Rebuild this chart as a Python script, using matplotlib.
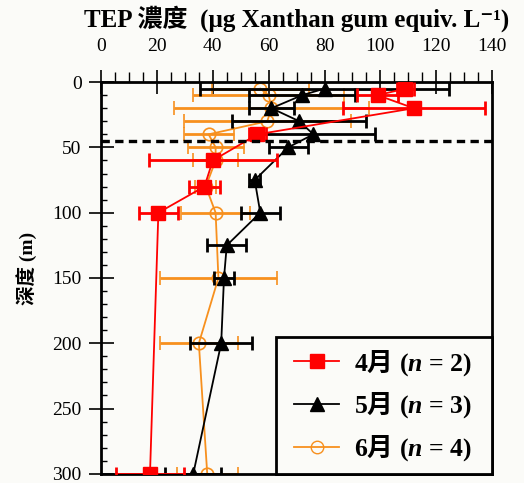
import matplotlib
matplotlib.use("Agg")
import matplotlib.pyplot as plt
from matplotlib.lines import Line2D
from matplotlib.legend_handler import HandlerLine2D
from matplotlib.ticker import MultipleLocator

plt.rcParams['font.family'] = ['Liberation Serif', 'Noto Sans CJK TC', 'STIXGeneral', 'DejaVu Serif']
# mathtext only used for the legend labels: CJK month + bold italic n
plt.rcParams['mathtext.fontset'] = 'custom'
plt.rcParams['mathtext.rm'] = 'Noto Sans CJK TC:bold'
plt.rcParams['mathtext.bfit'] = 'Liberation Serif:italic:bold'

# April (n = 2)
apr_depth = [5, 10, 20, 40, 60, 80, 100, 300]
apr_tep = [109, 99, 112, 56, 40, 37, 20.5, 17.5]
apr_err = [3, 7.5, 25.5, 3, 23, 5.4, 7, 12]

# May (n = 3)
may_depth = [5, 10, 20, 30, 40, 50, 75, 100, 125, 150, 200, 300]
may_tep = [80, 72, 61, 71, 76, 67, 55, 57, 45, 44, 43, 33]
may_err = [44.5, 19, 8, 24, 22, 7, 2, 7, 7, 3.7, 11, 10]

# June (n = 4)
jun_depth = [5, 10, 20, 30, 40, 50, 60, 80, 100, 150, 200, 300]
jun_tep = [57, 60, 61, 59.5, 38.5, 41, 41, 37.5, 41, 42, 35, 38]
jun_err = [17.3, 27, 35, 30, 9, 10, 8, 3.8, 12.3, 21, 14, 11]

months = ['4', '5', '6']
n_obs = [2, 3, 4]
labels = [m + r'$\mathrm{月}$ ($\mathbfit{n}$ = ' + str(n) + ')'
          for m, n in zip(months, n_obs)]
mld = 45

bg = '#fbfbf8'
fig = plt.figure(figsize=(5.24, 4.83), dpi=100, facecolor=bg)
ax = fig.add_axes([0.193, 0.019, 0.746, 0.811], facecolor=bg)

orange = '#f7901e'
ax.errorbar(jun_tep, jun_depth, xerr=jun_err, color=orange, lw=1.3, elinewidth=2,
            capsize=4.7, capthick=2, marker='o', ms=9, mfc='none', mec=orange, mew=1.2, zorder=2)
ax.errorbar(may_tep, may_depth, xerr=may_err, color='black', lw=1.3, elinewidth=2,
            capsize=4.7, capthick=2, marker='^', ms=10, zorder=3)
ax.errorbar(apr_tep, apr_depth, xerr=apr_err, color='red', lw=1.3, elinewidth=2,
            capsize=4.7, capthick=2, marker='s', ms=9.5, zorder=4)

ax.axhline(mld, color='black', lw=2.4, dashes=(2.5, 1.6), zorder=5)

ax.set_xlim(0, 140)
ax.set_ylim(300, 0)
ax.xaxis.tick_top()
ax.xaxis.set_label_position('top')
ax.xaxis.set_major_locator(MultipleLocator(20))
ax.xaxis.set_minor_locator(MultipleLocator(5))
ax.yaxis.set_major_locator(MultipleLocator(50))
ax.yaxis.set_minor_locator(MultipleLocator(10))
ax.tick_params(axis='x', which='major', direction='inout', length=17, width=1.2, labelsize=14, pad=11)
ax.tick_params(axis='x', which='minor', direction='out', length=7, width=1)
ax.tick_params(axis='y', which='major', direction='inout', length=18, width=1.2, labelsize=14, pad=5)
ax.tick_params(axis='y', which='minor', direction='in', length=4.5, width=1)
for s in ax.spines.values():
    s.set_linewidth(2)

ax.set_xlabel('TEP 濃度  (µg Xanthan gum equiv. L⁻¹)', fontsize=18,
              fontweight='bold', labelpad=8)
ax.set_ylabel('深度 (m)', fontsize=14, fontweight='bold')
ax.yaxis.set_label_coords(-0.164, 0.525)

h1, = ax.plot([], [], color='red', lw=1.3, marker='s', ms=9.5)
h2, = ax.plot([], [], color='black', lw=1.3, marker='^', ms=10)
h3, = ax.plot([], [], color=orange, lw=1.3, marker='o', ms=9, mfc='none', mec=orange)
leg = ax.legend([h1, h2, h3], labels, loc='lower right', bbox_to_anchor=(0.448, 0, 0.552, 0.4),
                mode='expand', borderaxespad=0, fancybox=False,
                edgecolor='black', facecolor=bg, framealpha=1, handlelength=2.03,
                labelspacing=0.5, borderpad=0.42, handletextpad=0.58,
                handler_map={Line2D: HandlerLine2D(xpad=0.28)},
                prop={'size': 18.5, 'weight': 'bold'})
leg.get_frame().set_linewidth(2)
leg.set_zorder(10)

fig.savefig('out.png', dpi=100, facecolor=bg)
